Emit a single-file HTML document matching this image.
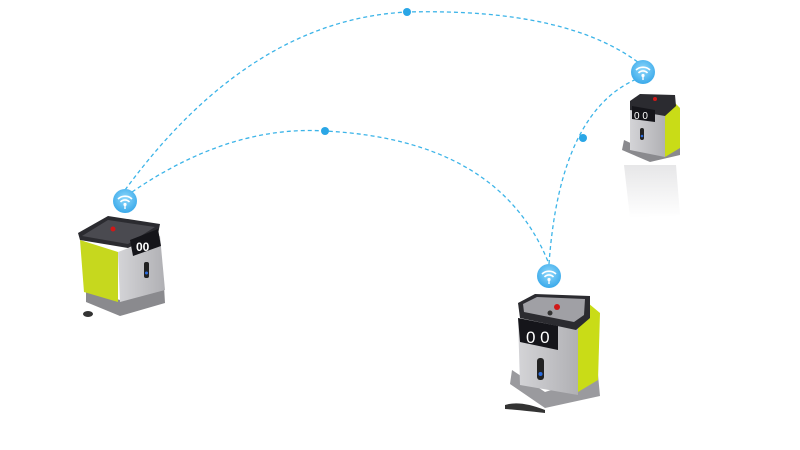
<!DOCTYPE html>
<html><head><meta charset="utf-8"><style>
html,body{margin:0;padding:0;background:#fff;}
svg{display:block}
</style></head><body>
<svg width="800" height="450" viewBox="0 0 800 450" xmlns="http://www.w3.org/2000/svg">
<defs>
<radialGradient id="wg" cx="50%" cy="40%" r="60%"><stop offset="0" stop-color="#8fd8fb"/><stop offset="1" stop-color="#3aa9ea"/></radialGradient>
<linearGradient id="body" x1="0" x2="1"><stop offset="0" stop-color="#d4d4d7"/><stop offset="1" stop-color="#b0b0b4"/></linearGradient>
<linearGradient id="refl" x1="0" y1="0" x2="0" y2="1"><stop offset="0" stop-color="#dcdcde"/><stop offset="1" stop-color="#fff"/></linearGradient>
<g id="wifi">
<circle r="12" fill="url(#wg)"/>
<path d="M-7,-2 A10,10 0 0 1 7,-2" stroke="#fff" stroke-width="1.6" fill="none"/>
<path d="M-4.5,1 A6,6 0 0 1 4.5,1" stroke="#fff" stroke-width="1.6" fill="none"/>
<circle cx="0" cy="3.5" r="1.6" fill="#fff"/>
<line x1="0" y1="4" x2="0" y2="8" stroke="#fff" stroke-width="1.4"/>
</g>
</defs>
<g stroke="#3cb4e8" stroke-width="1.3" stroke-dasharray="4,3" fill="none">
<path d="M125,190 Q250,20 407,12 Q570,8 643,66"/>
<path d="M132,192 Q230,125 325,131 Q500,140 549,264"/>
<path d="M549,264 Q560,110 639,78"/>
</g>
<circle cx="407" cy="12" r="4" fill="#2aa6e6"/>
<circle cx="325" cy="131" r="4" fill="#2aa6e6"/>
<circle cx="583" cy="138" r="4" fill="#2aa6e6"/>
<use href="#wifi" x="125" y="201"/>
<use href="#wifi" x="549" y="276"/>
<use href="#wifi" x="643" y="72"/>

<!-- robot 1 -->
<g>
<polygon points="86,302 120,316 165,303 164,286 120,300 86,290" fill="#8a8a8e"/>
<polygon points="80,240 118,252 118,302 84,292" fill="#c6d81e"/>
<polygon points="118,252 160,236 165,290 120,302" fill="url(#body)"/>
<polygon points="78,233 108,216 160,224 158,234 128,248 80,240" fill="#2b2b30"/>
<polygon points="82,236 108,220 155,227 128,244" fill="#4a4a50"/>
<polygon points="130,240 158,229 161,246 133,256" fill="#15151a"/>
<text x="136" y="251" font-family="Liberation Sans,sans-serif" font-size="12" font-weight="bold" fill="#fff">00</text>
<circle cx="113" cy="229" r="2.5" fill="#d01818"/>
<rect x="144" y="262" width="5" height="16" rx="2" fill="#222"/>
<circle cx="146.5" cy="273" r="1.5" fill="#2b6ce0"/>
<ellipse cx="88" cy="314" rx="5" ry="3" fill="#333"/>
</g>

<!-- robot 2 -->
<g>
<polygon points="510,384 545,408 600,396 598,375 545,392 512,370" fill="#9a9a9e"/>
<path d="M505,405 Q520,400 545,410 L545,413 Q520,410 505,409Z" fill="#333"/>
<polygon points="518,318 578,328 578,395 520,385" fill="url(#body)"/>
<polygon points="578,328 588,303 600,313 598,380 578,392" fill="#c9dc17"/>
<polygon points="518,303 535,294 590,296 590,318 576,330 520,318" fill="#2b2b30"/>
<polygon points="523,304 537,297 585,299 584,315 574,322 524,312" fill="#a0a0a5"/>
<circle cx="557" cy="307" r="3" fill="#d01818"/>
<circle cx="550" cy="313" r="2.5" fill="#333"/>
<polygon points="518,318 558,326 558,350 520,342" fill="#15151a"/>
<text x="526" y="343" font-family="Liberation Sans,sans-serif" font-size="17" fill="#fff">0 0</text>
<rect x="537" y="358" width="7" height="22" rx="3" fill="#222"/>
<circle cx="540.5" cy="374" r="2" fill="#2b6ce0"/>
</g>

<!-- robot 3 -->
<g>
<polygon points="624,165 630,218 680,215 676,165" fill="url(#refl)" opacity="0.7"/>
<polygon points="622,150 650,162 680,155 680,145 650,152 624,140" fill="#8a8a8e"/>
<polygon points="630,110 665,115 665,157 630,150" fill="url(#body)"/>
<polygon points="665,115 672,100 680,108 680,148 665,157" fill="#c9dc17"/>
<polygon points="630,101 640,94 675,95 676,106 665,116 630,110" fill="#2b2b30"/>
<circle cx="655" cy="99" r="2" fill="#d01818"/>
<polygon points="632,106 655,110 655,122 632,119" fill="#15151a"/>
<text x="634" y="119" font-family="Liberation Sans,sans-serif" font-size="10" fill="#fff">0 0</text>
<rect x="640" y="128" width="4" height="12" rx="2" fill="#222"/>
<circle cx="642" cy="136" r="1.3" fill="#2b6ce0"/>
</g>
</svg>
</body></html>
